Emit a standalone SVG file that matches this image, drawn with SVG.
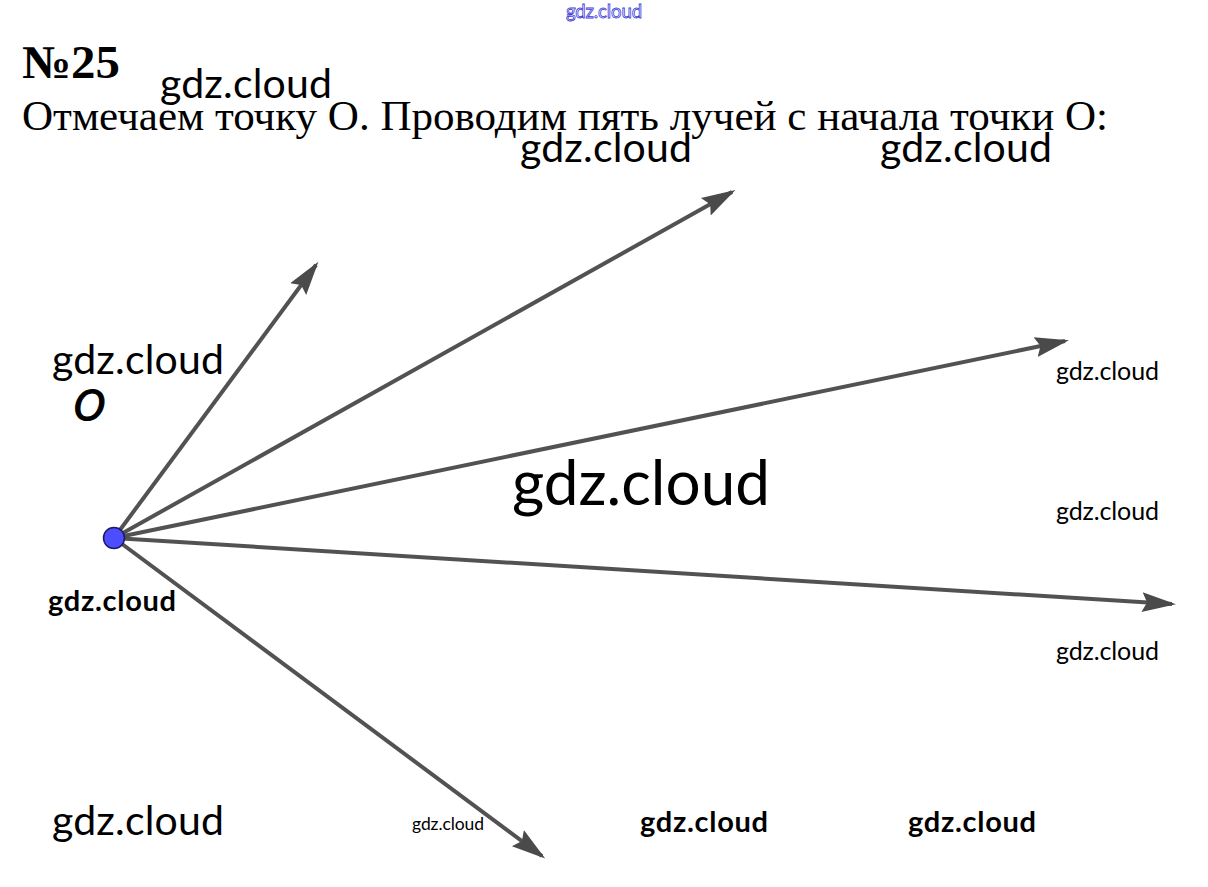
<svg xmlns="http://www.w3.org/2000/svg" width="1208" height="887" viewBox="0 0 1208 887">
<style>
.ray{stroke:#525252;stroke-width:4;fill:none;marker-end:url(#ah)}
.wm{font-family:Lato,"Liberation Sans",sans-serif;fill:#000}
.b{font-weight:bold}
.serif{font-family:"Liberation Serif",serif;fill:#000}
</style>
<defs>
<marker id="ah" markerUnits="userSpaceOnUse" markerWidth="34" markerHeight="24" refX="30" refY="12" orient="auto">
<path d="M0,2 L34,12 L0,22 L5,12 Z" fill="#4a4a4a"/>
</marker>
</defs>
<rect width="1208" height="887" fill="#fff"/>
<text x="566" y="18" font-family="Lato,'Liberation Sans',sans-serif" font-size="18.5" fill="#fff" stroke="#3b3bd6" stroke-width="0.8" textLength="76">gdz.cloud</text>
<text class="serif" x="22" y="78" font-size="47" font-weight="bold" textLength="98" lengthAdjust="spacingAndGlyphs">№25</text>
<text class="serif" x="22" y="130" font-size="43" textLength="1086" lengthAdjust="spacingAndGlyphs">Отмечаем точку О. Проводим пять лучей с начала точки О:</text>
<g id="connectors">
<line class="ray" x1="114" y1="538" x2="316" y2="265"/>
<line class="ray" x1="114" y1="538" x2="732" y2="192"/>
<line class="ray" x1="114" y1="538" x2="1065" y2="341"/>
<line class="ray" x1="114" y1="538" x2="1172" y2="604"/>
<line class="ray" x1="114" y1="538" x2="542" y2="856"/>
</g>
<g id="O">
<circle cx="114" cy="538" r="10.5" fill="#4d4dff" stroke="#1a1a66" stroke-width="1.5"/>
<text x="74" y="420" font-family="'DejaVu Sans',sans-serif" font-size="40" font-style="italic" fill="#000" stroke="#000" stroke-width="1.2">O</text>
</g>
<g id="watermarks">
<text class="wm" x="160" y="98" font-size="41" textLength="172">gdz.cloud</text>
<text class="wm" x="520" y="162" font-size="41" textLength="172">gdz.cloud</text>
<text class="wm" x="880" y="162" font-size="41" textLength="172">gdz.cloud</text>
<text class="wm" x="52" y="374" font-size="41" textLength="172">gdz.cloud</text>
<text class="wm" x="1056" y="380" font-size="25" textLength="103">gdz.cloud</text>
<text class="wm" x="512" y="505" font-size="62" textLength="258">gdz.cloud</text>
<text class="wm" x="1056" y="520" font-size="25" textLength="103">gdz.cloud</text>
<text class="wm b" x="48" y="611" font-size="29" textLength="128">gdz.cloud</text>
<text class="wm" x="1056" y="660" font-size="25" textLength="103">gdz.cloud</text>
<text class="wm" x="52" y="835" font-size="41" textLength="172">gdz.cloud</text>
<text class="wm" x="412" y="830" font-size="17.5" textLength="72">gdz.cloud</text>
<text class="wm b" x="640" y="832" font-size="29" textLength="128">gdz.cloud</text>
<text class="wm b" x="908" y="832" font-size="29" textLength="128">gdz.cloud</text>
</g>
</svg>
